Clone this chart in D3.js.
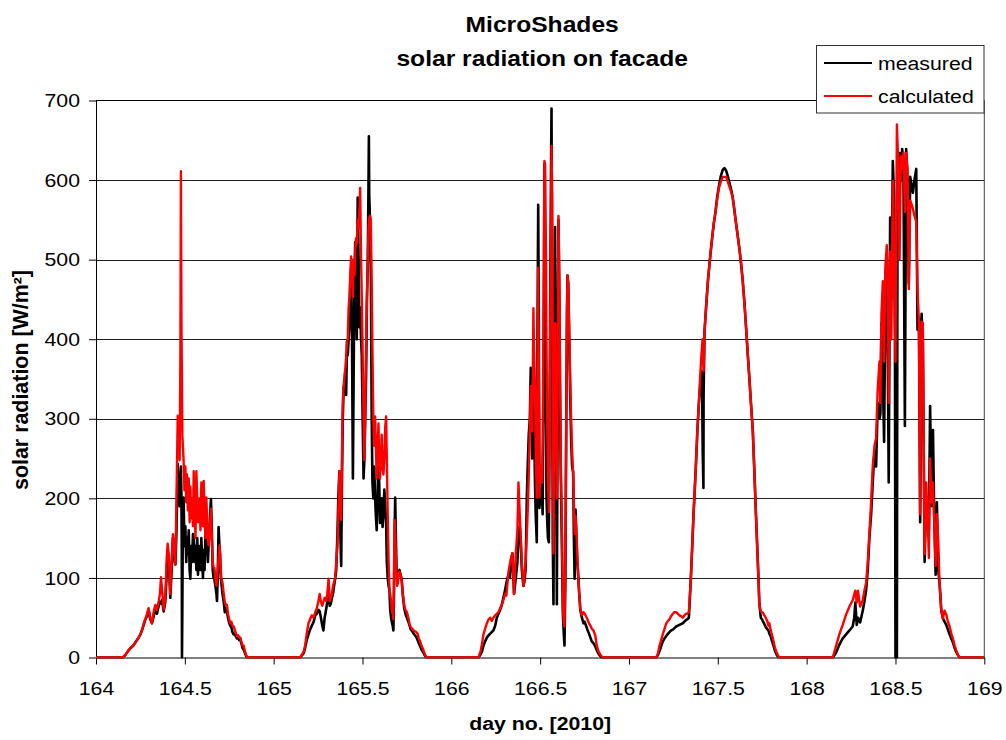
<!DOCTYPE html>
<html>
<head>
<meta charset="utf-8">
<script src="https://cdn.jsdelivr.net/npm/d3@7"></script>
<style>
  html, body { margin: 0; padding: 0; background: #fff; }
  svg { display: block; font-family: "Liberation Sans", Arial, sans-serif; }
</style>
</head>
<body>
<svg id="chart" width="1006" height="740"></svg>
<script>
// ---------------- DATA ----------------
const titleLines = ["MicroShades", "solar radiation on facade"];
const xLabel = "day no. [2010]";
const yLabel = "solar radiation [W/m²]";
const seriesNames = ["measured", "calculated"];
const xTicks = [164, 164.5, 165, 165.5, 166, 166.5, 167, 167.5, 168, 168.5, 169];
const yTicks = [0, 100, 200, 300, 400, 500, 600, 700];
const days = [164, 165, 166, 167, 168];

// [fraction of day, W/m²]
const measured164 = [[.150,0],[.165,3],[.18,8],[.195,12],[.21,15],[.225,20],[.24,25],[.25,29],[.26,35],[.27,42],[.278,48],[.287,52],[.296,60],[.305,48],[.315,43],[.325,52],[.334,62],[.343,55],[.353,65],[.36,70],[.366,68],[.372,72],[.381,58],[.39,70],[.397,100],[.403,131],[.41,120],[.418,75],[.426,110],[.433,150],[.44,125],[.447,117],[.453,160],[.46,243],[.466,200],[.471,190],[.475,220],[.478,240],[.481,200],[.483,120],[.484,0],[.486,60],[.489,180],[.493,201],[.498,140],[.503,165],[.508,120],[.512,150],[.517,130],[.522,160],[.527,110],[.531,99],[.536,140],[.541,120],[.546,155],[.55,150],[.555,120],[.56,140],[.565,110],[.57,150],[.574,104],[.578,125],[.583,140],[.588,110],[.593,150],[.598,120],[.602,100],[.606,135],[.611,110],[.616,155],[.621,130],[.626,140],[.63,120],[.634,141],[.64,170],[.647,199],[.652,160],[.657,110],[.662,100],[.666,99],[.672,90],[.678,80],[.681,71],[.685,100],[.69,164],[.695,140],[.7,110],[.705,95],[.712,80],[.719,70],[.725,57],[.731,62],[.737,58],[.743,50],[.75,43],[.756,40],[.762,38],[.768,32],[.775,29],[.781,30],[.788,26],[.794,24],[.8,26],[.806,22],[.812,24],[.818,18],[.825,12],[.831,10],[.838,6],[.845,2],[.85,0]];
const calculated164 = [[.150,0],[.165,3],[.18,8],[.195,12],[.21,15],[.225,20],[.24,25],[.25,29],[.26,35],[.27,44],[.278,48],[.287,55],[.296,62],[.305,50],[.315,43],[.325,58],[.334,66],[.343,60],[.353,71],[.36,80],[.366,101],[.372,85],[.381,60],[.39,75],[.397,120],[.403,143],[.41,130],[.418,80],[.426,120],[.433,155],[.44,140],[.447,117],[.453,200],[.46,304],[.466,280],[.471,248],[.475,380],[.478,611],[.481,420],[.486,280],[.493,248],[.498,210],[.503,240],[.508,195],[.512,230],[.517,185],[.522,225],[.527,170],[.531,215],[.536,175],[.541,200],[.546,165],[.55,234],[.555,190],[.56,150],[.565,234],[.57,200],[.574,170],[.578,178],[.583,200],[.588,160],[.593,220],[.598,185],[.602,165],[.606,222],[.611,180],[.616,150],[.621,201],[.626,170],[.63,150],[.634,141],[.64,160],[.647,187],[.652,150],[.657,120],[.662,113],[.666,113],[.672,100],[.678,90],[.685,110],[.69,125],[.695,141],[.7,130],[.705,100],[.712,94],[.719,80],[.725,70],[.731,66],[.737,66],[.743,55],[.75,48],[.756,43],[.762,45],[.768,40],[.775,39],[.781,35],[.788,30],[.794,27],[.8,28],[.806,25],[.812,25],[.818,20],[.825,15],[.831,15],[.838,8],[.845,3],[.85,0]];

const measured165 = [[.149,0],[.16,3],[.17,6],[.177,12],[.186,22],[.196,29],[.205,35],[.215,40],[.225,45],[.234,53],[.243,55],[.252,60],[.259,58],[.266,50],[.274,40],[.28,34],[.287,50],[.295,60],[.302,70],[.309,80],[.316,65],[.322,68],[.328,75],[.334,80],[.34,90],[.346,99],[.352,110],[.359,155],[.364,200],[.37,234],[.375,160],[.38,115],[.385,230],[.389,300],[.394,340],[.399,345],[.404,360],[.408,330],[.413,397],[.417,380],[.422,400],[.427,420],[.431,470],[.436,490],[.441,400],[.446,225],[.45,350],[.455,480],[.459,522],[.464,450],[.468,400],[.473,578],[.478,500],[.482,415],[.487,440],[.492,400],[.496,380],[.501,300],[.506,225],[.511,251],[.515,300],[.52,350],[.525,450],[.53,500],[.534,600],[.536,655],[.538,580],[.543,546],[.547,480],[.552,300],[.556,220],[.561,200],[.566,240],[.571,201],[.575,180],[.58,160],[.585,200],[.59,260],[.594,220],[.599,169],[.604,190],[.608,200],[.613,164],[.618,180],[.623,211],[.628,190],[.633,170],[.637,120],[.642,100],[.647,90],[.652,85],[.656,60],[.661,50],[.665,45],[.67,40],[.674,34],[.678,90],[.681,160],[.684,201],[.688,150],[.692,108],[.7,105],[.704,108],[.708,110],[.713,105],[.72,99],[.727,78],[.735,62],[.742,55],[.75,50],[.758,45],[.765,40],[.772,35],[.78,33],[.788,30],[.795,28],[.802,26],[.81,22],[.817,18],[.825,14],[.832,10],[.84,7],[.848,4],[.855,1],[.862,0]];
const calculated165 = [[.149,0],[.16,4],[.17,8],[.177,15],[.186,30],[.196,43],[.205,48],[.215,53],[.225,50],[.234,57],[.243,62],[.252,71],[.259,80],[.266,70],[.274,65],[.28,70],[.287,75],[.295,71],[.302,80],[.309,99],[.316,71],[.322,75],[.328,80],[.334,90],[.34,95],[.346,99],[.352,120],[.359,141],[.364,180],[.37,234],[.375,200],[.38,173],[.385,260],[.389,322],[.394,340],[.399,355],[.404,365],[.408,378],[.413,397],[.417,400],[.422,440],[.427,453],[.431,480],[.436,504],[.441,480],[.446,453],[.45,500],[.455,480],[.459,510],[.464,527],[.468,520],[.473,550],[.478,540],[.482,560],[.487,590],[.492,500],[.496,453],[.501,380],[.506,300],[.511,248],[.515,300],[.52,387],[.525,450],[.53,500],[.534,540],[.538,553],[.543,555],[.547,550],[.552,470],[.556,387],[.561,300],[.566,266],[.571,303],[.575,270],[.58,225],[.585,260],[.59,294],[.594,250],[.599,225],[.604,250],[.608,280],[.613,240],[.618,230],[.623,250],[.628,290],[.633,303],[.637,250],[.642,180],[.647,120],[.652,85],[.656,80],[.661,71],[.665,60],[.67,55],[.674,48],[.678,120],[.681,173],[.685,150],[.69,110],[.695,90],[.7,95],[.704,105],[.708,108],[.713,105],[.72,99],[.727,80],[.735,66],[.742,60],[.75,57],[.758,50],[.765,42],[.772,38],[.78,36],[.788,34],[.795,33],[.802,32],[.81,30],[.817,24],[.825,20],[.832,15],[.84,11],[.848,6],[.855,2],[.862,0]];

const measured166 = [[.153,0],[.165,4],[.173,8],[.181,15],[.19,20],[.2,25],[.21,28],[.219,30],[.228,32],[.237,34],[.247,40],[.256,50],[.265,55],[.275,60],[.284,66],[.293,75],[.303,85],[.31,94],[.322,105],[.33,100],[.338,125],[.344,131],[.353,80],[.363,100],[.372,120],[.378,150],[.385,165],[.391,145],[.397,110],[.406,90],[.411,95],[.418,110],[.425,201],[.431,248],[.436,280],[.442,300],[.447,364],[.451,300],[.455,250],[.459,320],[.462,370],[.466,300],[.471,220],[.475,180],[.481,145],[.485,400],[.489,569],[.493,400],[.496,188],[.5,200],[.505,240],[.51,210],[.514,180],[.519,350],[.524,620],[.528,500],[.533,300],[.536,200],[.54,170],[.544,150],[.549,145],[.553,300],[.558,500],[.562,640],[.564,690],[.567,500],[.571,150],[.575,67],[.579,300],[.584,541],[.589,350],[.594,67],[.599,340],[.603,550],[.608,450],[.612,330],[.616,230],[.621,160],[.625,100],[.628,55],[.633,30],[.637,15],[.642,100],[.647,300],[.651,430],[.654,480],[.658,470],[.662,420],[.666,370],[.67,320],[.675,270],[.68,240],[.686,233],[.69,150],[.694,99],[.699,186],[.704,150],[.709,120],[.713,108],[.72,80],[.726,60],[.735,50],[.744,43],[.75,45],[.758,40],[.766,35],[.775,30],[.783,25],[.791,20],[.8,18],[.81,14],[.819,9],[.828,5],[.838,2],[.847,0]];
const calculated166 = [[.153,0],[.165,8],[.173,18],[.181,29],[.19,36],[.2,43],[.21,48],[.219,50],[.228,46],[.237,50],[.247,53],[.256,55],[.265,57],[.275,62],[.284,66],[.293,72],[.303,80],[.31,78],[.322,108],[.333,122],[.344,131],[.353,80],[.363,131],[.372,160],[.378,220],[.385,180],[.391,150],[.397,118],[.406,90],[.411,100],[.418,120],[.425,155],[.431,190],[.436,230],[.442,290],[.447,341],[.451,300],[.455,284],[.459,360],[.462,439],[.466,380],[.471,341],[.475,260],[.481,201],[.485,330],[.489,490],[.493,350],[.496,201],[.5,230],[.505,240],[.51,220],[.514,271],[.519,400],[.524,624],[.528,620],[.533,500],[.536,387],[.54,300],[.544,230],[.549,183],[.553,260],[.556,387],[.56,520],[.564,643],[.568,573],[.571,400],[.575,131],[.579,300],[.584,420],[.589,300],[.594,200],[.599,380],[.603,555],[.608,480],[.612,355],[.616,250],[.621,183],[.625,120],[.628,62],[.633,45],[.637,39],[.642,120],[.647,300],[.651,440],[.654,480],[.658,470],[.662,430],[.666,387],[.67,340],[.675,294],[.68,260],[.686,225],[.69,190],[.695,155],[.699,178],[.704,160],[.709,130],[.713,108],[.72,80],[.726,62],[.735,53],[.744,57],[.75,55],[.758,52],[.766,48],[.775,43],[.783,40],[.791,36],[.8,34],[.81,28],[.819,15],[.828,8],[.838,4],[.847,1],[.857,0]];

const measured167 = [[.154,0],[.163,3],[.172,8],[.181,14],[.19,20],[.2,24],[.21,27],[.22,30],[.228,32],[.237,34],[.247,35],[.256,37],[.265,39],[.275,40],[.284,41],[.293,42],[.303,43],[.312,45],[.32,47],[.328,48],[.337,50],[.343,75],[.35,108],[.356,140],[.363,178],[.37,210],[.378,248],[.385,285],[.393,318],[.4,340],[.407,360],[.412,330],[.415,260],[.419,213],[.42,330],[.425,409],[.431,430],[.438,453],[.445,475],[.453,494],[.46,510],[.468,527],[.477,545],[.487,560],[.496,578],[.506,592],[.517,605],[.528,613],[.537,615],[.547,612],[.556,605],[.565,597],[.575,588],[.584,578],[.593,563],[.603,545],[.612,530],[.622,513],[.631,495],[.64,474],[.65,445],[.659,415],[.668,383],[.678,350],[.687,318],[.697,285],[.706,232],[.715,178],[.725,122],[.734,67],[.742,50],[.749,48],[.755,45],[.762,42],[.77,38],[.778,36],[.785,34],[.79,30],[.797,27],[.803,22],[.809,18],[.816,13],[.822,8],[.83,4],[.838,1],[.846,0]];
const calculated167 = [[.154,0],[.163,5],[.172,15],[.181,22],[.19,29],[.2,36],[.21,43],[.22,46],[.228,48],[.237,52],[.247,55],[.256,57],[.265,57],[.275,55],[.284,53],[.293,52],[.303,50],[.312,53],[.32,55],[.328,55],[.337,57],[.343,80],[.35,108],[.356,140],[.363,178],[.37,210],[.378,248],[.385,285],[.393,318],[.4,350],[.407,378],[.414,400],[.42,360],[.425,409],[.431,430],[.438,453],[.445,475],[.453,494],[.46,510],[.468,527],[.477,545],[.487,560],[.496,575],[.506,590],[.517,598],[.528,604],[.537,604],[.547,604],[.556,598],[.565,592],[.575,585],[.584,578],[.593,562],[.603,545],[.612,530],[.622,513],[.631,495],[.64,474],[.65,445],[.659,415],[.668,383],[.678,350],[.687,318],[.697,285],[.706,232],[.715,178],[.725,122],[.734,67],[.742,58],[.749,57],[.755,56],[.762,53],[.77,50],[.778,46],[.785,40],[.79,43],[.797,35],[.803,30],[.809,25],[.816,18],[.822,12],[.83,7],[.838,3],[.846,0]];

const measured168 = [[.147,0],[.165,6],[.184,16],[.203,24],[.222,29],[.241,34],[.259,39],[.268,50],[.274,69],[.282,41],[.289,50],[.301,44],[.316,59],[.325,70],[.335,85],[.344,110],[.353,150],[.363,180],[.372,220],[.382,260],[.391,240],[.4,320],[.41,300],[.415,306],[.421,420],[.429,350],[.436,271],[.444,480],[.451,508],[.457,372],[.462,220],[.47,553],[.477,450],[.485,624],[.492,580],[.497,400],[.5,0],[.508,0],[.511,500],[.515,629],[.523,634],[.53,599],[.538,639],[.545,610],[.553,291],[.56,639],[.568,600],[.575,470],[.583,604],[.59,595],[.598,584],[.607,600],[.617,614],[.624,412],[.632,427],[.639,170],[.647,432],[.654,400],[.664,120],[.673,200],[.682,170],[.688,160],[.695,316],[.703,190],[.711,286],[.718,180],[.726,104],[.733,195],[.741,109],[.748,94],[.758,59],[.767,49],[.776,45],[.786,41],[.795,35],[.805,29],[.814,24],[.823,19],[.833,12],[.842,7],[.852,3],[.861,0]];
const calculated168 = [[.147,0],[.165,14],[.184,29],[.203,41],[.222,54],[.241,64],[.259,72],[.274,84],[.282,69],[.289,84],[.301,64],[.316,72],[.325,84],[.335,94],[.344,120],[.353,155],[.363,195],[.372,240],[.382,266],[.391,276],[.4,337],[.41,372],[.415,320],[.421,432],[.429,473],[.436,372],[.444,493],[.451,518],[.457,470],[.462,320],[.47,510],[.477,400],[.485,599],[.492,500],[.5,372],[.508,670],[.515,624],[.523,500],[.53,630],[.538,614],[.545,634],[.553,560],[.56,634],[.568,614],[.575,463],[.583,574],[.59,570],[.598,564],[.607,555],[.617,548],[.624,463],[.632,422],[.639,180],[.647,422],[.654,420],[.664,130],[.673,220],[.682,170],[.688,125],[.695,250],[.703,195],[.711,220],[.718,170],[.726,115],[.733,180],[.741,145],[.748,94],[.758,59],[.767,49],[.776,59],[.786,54],[.795,45],[.805,39],[.814,30],[.823,24],[.833,15],[.842,9],[.852,3],[.861,0]];

const measuredDays = [measured164, measured165, measured166, measured167, measured168];
const calculatedDays = [calculated164, calculated165, calculated166, calculated167, calculated168];

// ---------------- BUILD ----------------
(function () {
function buildSeries(perDay) {
  const pts = [[164, 0]];
  perDay.forEach((arr, i) => arr.forEach(([f, v]) => pts.push([days[i] + f, v])));
  pts.push([169, 0]);
  return pts;
}
const measured = buildSeries(measuredDays);
const calculated = buildSeries(calculatedDays);

const svg = d3.select("#chart");
const pLeft = 96, pRight = 984.3, pTop = 100.5, pBottom = 657.5;
const SX = 1.12; // horizontal text stretch of the original

const x = d3.scaleLinear().domain([164, 169]).range([pLeft, pRight]);
const y = d3.scaleLinear().domain([0, 700]).range([pBottom, pTop]);

// grid lines
svg.append("g").selectAll("line").data(yTicks.filter(d => d > 0 && d < 700)).join("line")
  .attr("x1", pLeft).attr("x2", pRight)
  .attr("y1", d => Math.round(y(d)) + 0.5).attr("y2", d => Math.round(y(d)) + 0.5)
  .attr("stroke", "#222").attr("stroke-width", 1);

// plot frame (top & right)
svg.append("line").attr("x1", pLeft).attr("x2", pRight).attr("y1", pTop).attr("y2", pTop)
  .attr("stroke", "#000").attr("stroke-width", 1);
svg.append("line").attr("x1", pRight).attr("x2", pRight).attr("y1", pTop).attr("y2", pBottom)
  .attr("stroke", "#444").attr("stroke-width", 1);

// axes
const fontTick = "19px";
const xAxis = svg.append("g").attr("transform", `translate(0,${pBottom})`)
  .call(d3.axisBottom(x).tickValues(xTicks).tickSize(7).tickSizeOuter(0).tickFormat(d => String(d)));
xAxis.select(".domain").attr("stroke", "#000");
xAxis.selectAll(".tick line").attr("stroke", "#000");
xAxis.selectAll(".tick text")
  .attr("y", 37.5).attr("dy", 0)
  .attr("fill", "#000")
  .style("font-size", fontTick).style("font-family", "Liberation Sans, Arial, sans-serif")
  .attr("transform", `scale(${SX},1)`);

const yAxis = svg.append("g").attr("transform", `translate(${pLeft},0)`)
  .call(d3.axisLeft(y).tickValues(yTicks).tickSize(7).tickSizeOuter(0).tickFormat(d3.format("d")));
yAxis.select(".domain").attr("stroke", "#000");
yAxis.selectAll(".tick line").attr("stroke", "#000");
yAxis.selectAll(".tick text")
  .attr("x", -14.3)
  .attr("fill", "#000")
  .style("font-size", fontTick).style("font-family", "Liberation Sans, Arial, sans-serif")
  .attr("transform", `scale(${SX},1)`);

// lines
const line = d3.line().x(d => x(d[0])).y(d => y(d[1]));
svg.append("clipPath").attr("id", "plotclip").append("rect")
  .attr("x", pLeft).attr("y", pTop - 5).attr("width", pRight - pLeft).attr("height", pBottom - pTop + 6);
svg.append("path").datum(measured).attr("d", line)
  .attr("fill", "none").attr("stroke", "#000").attr("stroke-width", 2.6)
  .attr("stroke-linejoin", "round").attr("clip-path", "url(#plotclip)");
svg.append("path").datum(calculated).attr("d", line)
  .attr("fill", "none").attr("stroke", "#ff0000").attr("stroke-width", 2.4)
  .attr("stroke-linejoin", "round").attr("clip-path", "url(#plotclip)");

// titles
const cx = (pLeft + pRight) / 2;
function stretchedText(g, tx, ty, txt, size, weight, anchor) {
  return g.append("text")
    .attr("transform", `translate(${tx},${ty}) scale(${SX},1)`)
    .attr("text-anchor", anchor || "middle")
    .style("font-size", size).style("font-weight", weight || "normal")
    .attr("fill", "#000").text(txt);
}
stretchedText(svg, cx + 2, 32, titleLines[0], "22px", "bold");
stretchedText(svg, cx + 2, 66, titleLines[1], "22px", "bold");
stretchedText(svg, cx, 730, xLabel, "19px", "bold");

svg.append("text")
  .attr("transform", `translate(28,380) rotate(-90)`)
  .attr("text-anchor", "middle")
  .style("font-size", "21.4px").style("font-weight", "bold")
  .attr("fill", "#000").text(yLabel);

// legend
const lg = svg.append("g");
lg.append("rect").attr("x", 816.5).attr("y", 45.5).attr("width", 167.5).attr("height", 67.5)
  .attr("fill", "#fff").attr("stroke", "#333").attr("stroke-width", 1);
const legendItems = [
  { name: seriesNames[0], color: "#000", y: 63 },
  { name: seriesNames[1], color: "#ff0000", y: 96 }
];
legendItems.forEach(it => {
  lg.append("line").attr("x1", 824).attr("x2", 872).attr("y1", it.y).attr("y2", it.y)
    .attr("stroke", it.color).attr("stroke-width", 2);
  stretchedText(lg, 878, it.y + 6.5, it.name, "19px", "normal", "start");
});
})();
</script>
</body>
</html>
